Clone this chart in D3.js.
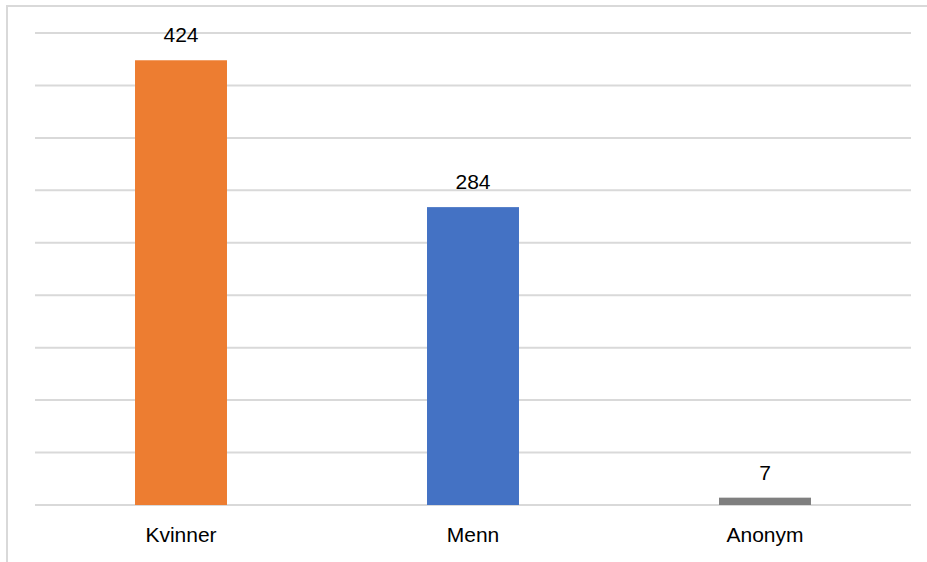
<!DOCTYPE html>
<html>
<head>
<meta charset="utf-8">
<script src="https://cdn.jsdelivr.net/npm/d3@7"></script>
<style>
  body { margin: 0; background: #fff; }
  svg { display: block; font-family: "Liberation Sans", Arial, sans-serif; }
</style>
</head>
<body>
<svg class="chart" width="927" height="562"></svg>
<script>
// chart data
const categories = ["Kvinner", "Menn", "Anonym"];
const values = [424, 284, 7];
const colors = ["#ED7D31", "#4472C4", "#7F7F7F"];
const gridTicks = d3.range(0, 451, 50);

const svg = d3.select(".chart");
const width = +svg.attr("width");
const height = +svg.attr("height");

const plot = { left: 35, right: 911, top: 33, bottom: 505 };

// frame (only top and left edges are visible in the crop)
svg.append("rect")
  .attr("x", 7)
  .attr("y", 6)
  .attr("width", width + 10)
  .attr("height", height + 10)
  .attr("fill", "none")
  .attr("stroke", "#d9d9d9")
  .attr("stroke-width", 2);

const x = d3.scaleBand()
  .domain(categories)
  .range([plot.left, plot.right])
  .paddingInner(0.685)
  .paddingOuter(0.3425);

const y = d3.scaleLinear()
  .domain([0, 450])
  .range([plot.bottom, plot.top]);

// gridlines
svg.append("g")
  .attr("class", "grid")
  .selectAll("line")
  .data(gridTicks)
  .enter().append("line")
    .attr("x1", plot.left)
    .attr("x2", plot.right)
    .attr("y1", d => y(d))
    .attr("y2", d => y(d))
    .attr("stroke", "#d9d9d9")
    .attr("stroke-width", 2);

const data = categories.map((c, i) => ({ name: c, value: values[i], color: colors[i] }));

svg.append("g")
  .attr("class", "bars")
  .selectAll("rect")
  .data(data)
  .enter().append("rect")
    .attr("x", d => x(d.name))
    .attr("width", x.bandwidth())
    .attr("y", d => y(d.value))
    .attr("height", d => y(0) - y(d.value))
    .attr("fill", d => d.color);

// value labels
svg.append("g")
  .selectAll("text")
  .data(data)
  .enter().append("text")
    .attr("x", d => x(d.name) + x.bandwidth() / 2)
    .attr("y", d => y(d.value) - 18)
    .attr("text-anchor", "middle")
    .attr("font-size", 21)
    .attr("fill", "#000")
    .text(d => d.value);

// category axis labels
const xAxis = d3.axisBottom(x).tickSize(0).tickPadding(0);
const axisG = svg.append("g")
  .attr("transform", `translate(0,${plot.bottom})`)
  .call(xAxis);
axisG.select(".domain").remove();
axisG.selectAll("text")
  .attr("dy", null)
  .attr("y", 37)
  .attr("font-size", 21)
  .attr("font-family", "Liberation Sans, Arial, sans-serif")
  .attr("fill", "#000");
</script>
</body>
</html>
